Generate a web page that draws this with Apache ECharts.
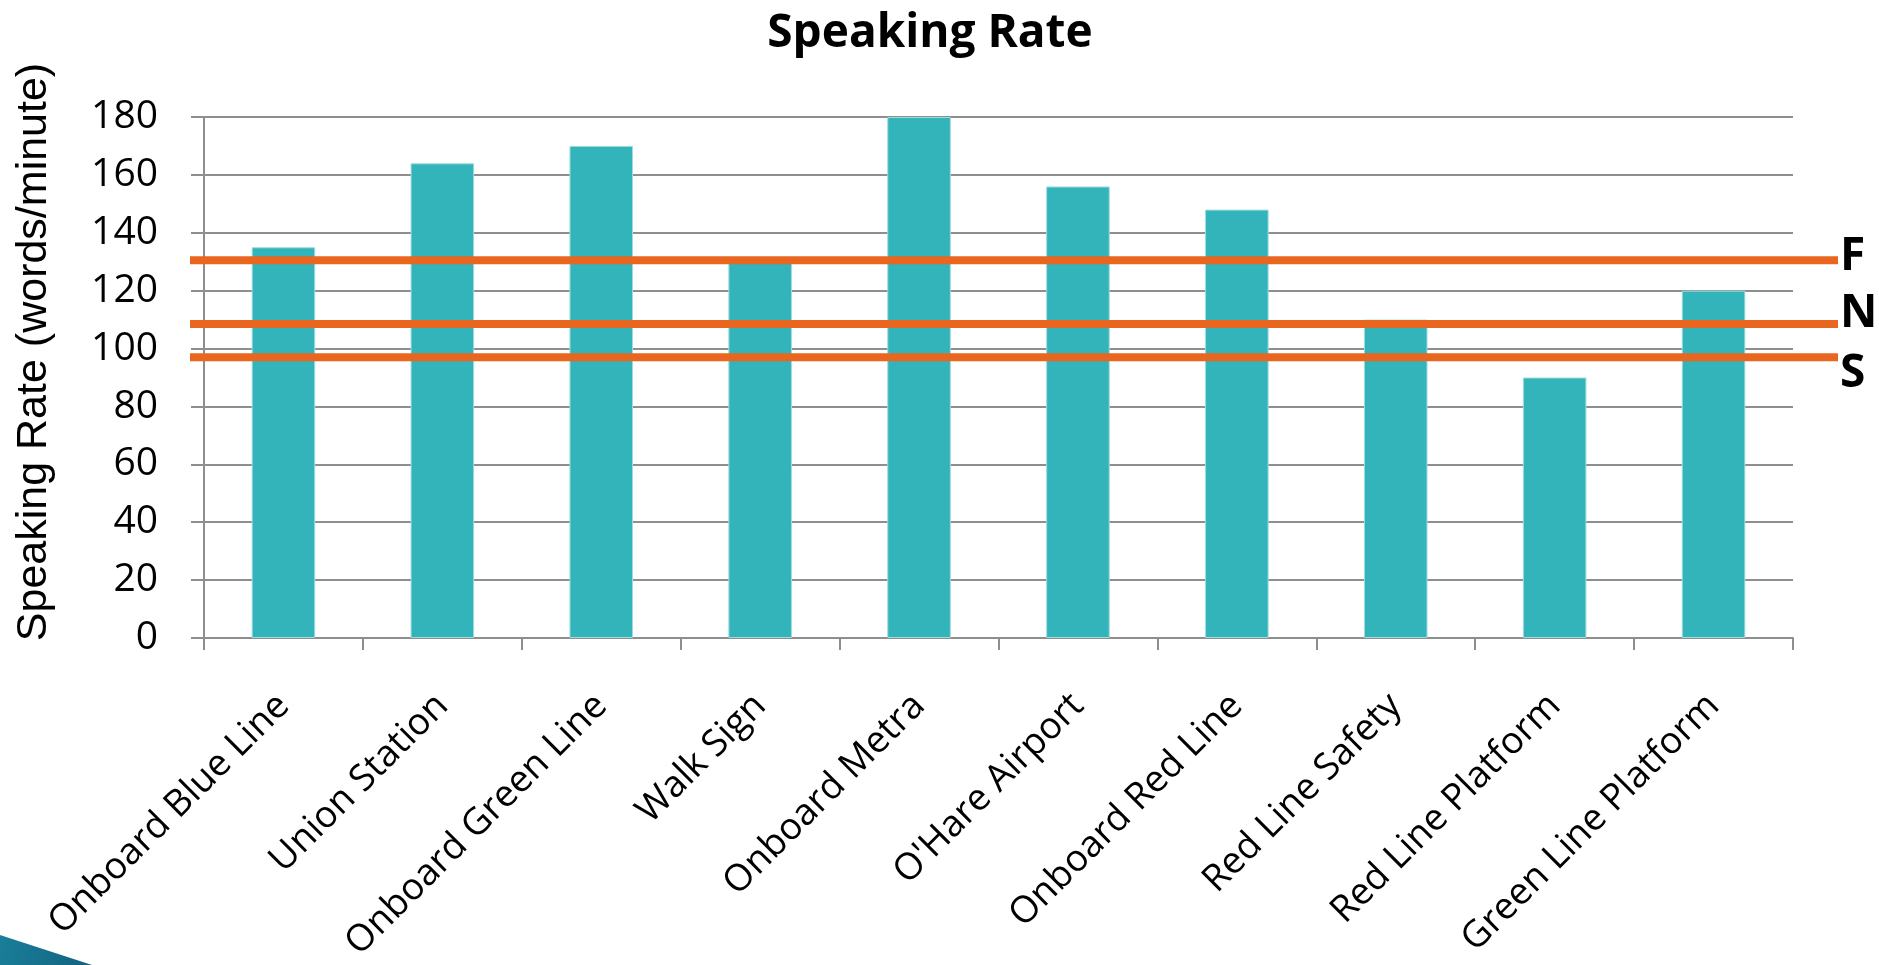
<!DOCTYPE html>
<html>
<head>
<meta charset="utf-8">
<title>Speaking Rate</title>
<script src="https://cdn.jsdelivr.net/npm/echarts@6/dist/echarts.min.js"></script>
<style>
  html, body { margin: 0; padding: 0; background: #ffffff; }
  #chart { width: 1879px; height: 965px; }
</style>
</head>
<body>
<div id="chart"></div>
<script>
// Recording locations along the x axis
const categories = [
  'Onboard Blue Line', 'Union Station', 'Onboard Green Line', 'Walk Sign',
  'Onboard Metra', "O'Hare Airport", 'Onboard Red Line', 'Red Line Safety',
  'Red Line Platform', 'Green Line Platform'
];
// Measured speaking rate (words/minute) per location
const rates = [135, 164, 170, 130, 180, 156, 148, 110, 90, 120];
// Reference rates: Fast, Normal, Slow
const refNames = ['F', 'N', 'S'];
const refRates = [130.5, 108.5, 97];
// Y axis range
const yMin = 0, yMax = 180, yStep = 20;
const yTitle = 'Speaking Rate (words/minute)';

const gridColor = '#8e8e8e';
const barColor = '#32B4BA';
const refColor = '#E8661F';
const labelOffsets = { F: [0, -3], N: [0, -10], S: [0, 17] };

const chart = echarts.init(document.getElementById('chart'), null, { renderer: 'canvas' });

const refSeries = refNames.map((name, i) => ({
  name: name,
  type: 'line',
  xAxisIndex: 1,
  yAxisIndex: 1,
  data: [[0, refRates[i]], [1, refRates[i]]],
  symbol: 'none',
  z: 10,
  lineStyle: { color: refColor, width: 8 },
  endLabel: {
    show: true,
    formatter: '{a}',
    color: '#000',
    fontFamily: 'Open Sans',
    fontWeight: 'bold',
    fontSize: 46,
    distance: 2,
    offset: labelOffsets[name]
  }
}));

chart.setOption({
  animation: false,
  title: {
    text: 'Speaking Rate',
    left: 925,
    textAlign: 'center',
    top: 6,
    textStyle: { fontFamily: 'Open Sans', fontWeight: 'bold', fontSize: 46, color: '#000' }
  },
  grid: [
    { left: 204, right: 86, top: 117, bottom: 327, outerBoundsMode: 'none', containLabel: false },
    { left: 190, right: 41, top: 117, bottom: 327, outerBoundsMode: 'none', containLabel: false }
  ],
  xAxis: [
    {
      type: 'category',
      gridIndex: 0,
      data: categories,
      boundaryGap: true,
      axisLine: { lineStyle: { color: gridColor, width: 2 } },
      axisTick: { show: true, length: 12, alignWithLabel: false, lineStyle: { color: gridColor, width: 2 } },
      axisLabel: {
        rotate: 45,
        interval: 0,
        margin: 62,
        color: '#000',
        fontFamily: 'Open Sans',
        fontSize: 37
      }
    },
    { type: 'value', gridIndex: 1, min: 0, max: 1, show: false }
  ],
  yAxis: [
    {
      type: 'value',
      gridIndex: 0,
      min: yMin,
      max: yMax,
      interval: yStep,
      axisLine: { show: true, lineStyle: { color: gridColor, width: 2 } },
      axisTick: { show: true, length: 13, lineStyle: { color: gridColor, width: 2 } },
      splitLine: { show: true, lineStyle: { color: gridColor, width: 2 } },
      axisLabel: { margin: 46, color: '#000', fontFamily: 'Open Sans', fontSize: 39 }
    },
    { type: 'value', gridIndex: 1, min: yMin, max: yMax, show: false }
  ],
  series: [
    {
      name: 'Speaking Rate',
      type: 'bar',
      xAxisIndex: 0,
      yAxisIndex: 0,
      data: rates,
      barCategoryGap: '60%',
      itemStyle: { color: barColor, borderColor: '#9fdcdf', borderWidth: 1 }
    },
    ...refSeries
  ],
  graphic: [
    {
      // vertical y-axis title
      type: 'text',
      x: 34,
      y: 352,
      rotation: Math.PI / 2,
      style: {
        text: yTitle,
        align: 'center',
        verticalAlign: 'middle',
        fontFamily: 'Liberation Sans',
        fontSize: 43,
        fill: '#000'
      }
    },
    {
      type: 'polygon',
      shape: { points: [[0, 935], [92, 965], [0, 965]] },
      style: {
        fill: new echarts.graphic.LinearGradient(0, 0, 1, 1, [
          { offset: 0, color: '#1a7f9a' },
          { offset: 1, color: '#12627f' }
        ])
      },
      z: 100
    }
  ]
});
</script>
</body>
</html>
